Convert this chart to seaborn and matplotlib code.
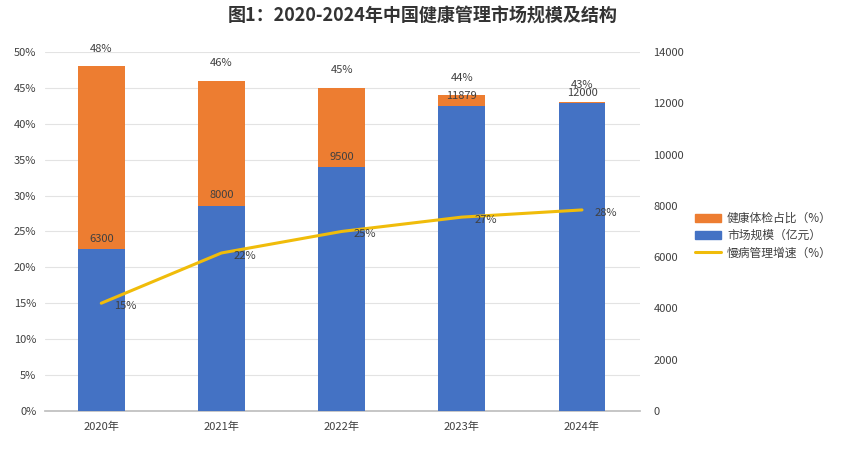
import matplotlib
matplotlib.use('Agg')
import matplotlib.pyplot as plt
import seaborn as sns
import pandas as pd
from matplotlib.ticker import PercentFormatter
from matplotlib.patches import Patch
from matplotlib.lines import Line2D

# data
years = ['2020年', '2021年', '2022年', '2023年', '2024年']
market_size = [6300, 8000, 9500, 11879, 12000]      # 市场规模（亿元）
checkup_share = [48, 46, 45, 44, 43]                # 健康体检占比（%）
chronic_growth = [15, 22, 25, 27, 28]               # 慢病管理增速（%）

df = pd.DataFrame({'year': years, 'size': market_size,
                   'share': checkup_share, 'growth': chronic_growth})

sns.set_theme(style='white')
plt.rcParams['font.family'] = ['Noto Sans CJK SC', 'DejaVu Sans']

orange = '#ED7D31'
blue = '#4472C4'
gold = '#F0BC0A'
txt = '#404040'

fig = plt.figure(figsize=(8.45, 4.49), dpi=100)
ax = fig.add_axes([0.053, 0.085, 0.704, 0.799])

# orange share bars (left axis)
sns.barplot(data=df, x='year', y='share', color=orange, width=0.39,
            saturation=1, linewidth=0, edgecolor='none', ax=ax, zorder=2)
ax.set_ylim(0, 50)
ax.set_yticks(range(0, 51, 5))
ax.yaxis.set_major_formatter(PercentFormatter(decimals=0))
ax.grid(axis='y', color='#E3E3E3', lw=0.8, zorder=0)
ax.set_axisbelow(True)
for i, v in enumerate(checkup_share):
    ax.annotate(f'{v}%', (i, v), xytext=(0, 9), textcoords='offset points',
                ha='center', va='bottom', fontsize=8, color=txt)

# blue market size bars (right axis)
ax2 = ax.twinx()
sns.barplot(data=df, x='year', y='size', color=blue, width=0.39,
            saturation=1, linewidth=0, edgecolor='none', ax=ax2, zorder=2)
ax2.set_ylim(0, 14000)
ax2.set_yticks(range(0, 14001, 2000))
for i, v in enumerate(market_size):
    ax2.annotate(f'{v}', (i, v), xytext=(0, 4), textcoords='offset points',
                 ha='center', va='bottom', fontsize=8, color=txt)

# growth line (percent scale, drawn on top)
ax3 = ax.twinx()
sns.lineplot(data=df, x='year', y='growth', color=gold, lw=2.2,
             sort=False, ax=ax3)
ax3.set_ylim(0, 50)
ax3.set_yticks([])
for i, v in enumerate(chronic_growth):
    ax3.annotate(f'{v}%', (i, v), xytext=(17, -2), textcoords='offset points',
                 ha='center', va='center', fontsize=8, color=txt)

for a in (ax, ax2, ax3):
    a.set_xlim(-0.47, 4.48)
    a.set_xlabel('')
    a.set_ylabel('')
    for s in a.spines.values():
        s.set_visible(False)
ax.spines['bottom'].set_visible(True)
ax.spines['bottom'].set_color('#BFBFBF')
ax.tick_params(axis='both', labelsize=8, colors=txt, length=0, pad=6)
ax.tick_params(axis='x', pad=8)
ax2.tick_params(axis='y', labelsize=8, colors=txt, length=0, pad=10)

handles = [Patch(color=orange, label='健康体检占比（%）'),
           Patch(color=blue, label='市场规模（亿元）'),
           Line2D([0], [0], color=gold, lw=2.2, label='慢病管理增速（%）')]
fig.legend(handles=handles, loc='center left', bbox_to_anchor=(0.81, 0.475),
           frameon=False, fontsize=8.5, handlelength=2.2, handleheight=0.6,
           labelspacing=0.35, handletextpad=0.5, labelcolor=txt)

fig.suptitle('图1：2020-2024年中国健康管理市场规模及结构', fontsize=13,
             fontweight='bold', color='#333333', y=0.985)

fig.savefig('out.png', dpi=100)
